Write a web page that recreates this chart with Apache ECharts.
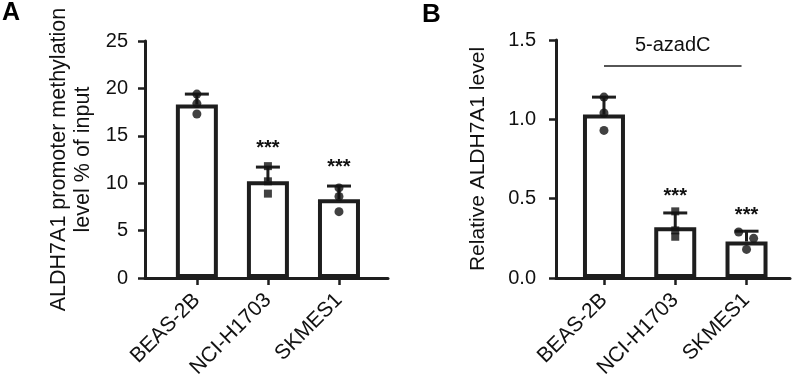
<!DOCTYPE html>
<html lang="en">
<head>
    <meta charset="UTF-8">
    <title>ALDH7A1 methylation and expression</title>
    <script src="https://cdn.jsdelivr.net/npm/echarts@6/dist/echarts.min.js"></script>
</head>
<body style="margin:0;background:#fff">
<div id="chart" style="width:800px;height:383px"></div>
<script>
    // data
    let cellLines = ['BEAS-2B', 'NCI-H1703', 'SKMES1'];
    let stars = ['', '***', '***'];

    let meanA = [18.3, 10.2, 8.3];
    let sdTopA = [19.4, 11.7, 9.7];
    let pointsA = [[19.4, 18.4, 17.3], [11.8, 10.2, 8.9], [9.5, 8.6, 7.0]];

    let meanB = [1.03, 0.32, 0.23];
    let sdTopB = [1.14, 0.41, 0.295];
    let pointsB = [[1.14, 1.04, 0.93], [0.42, 0.30, 0.26], [0.29, 0.25, 0.18]];
    let jitterB = [[0, 0, 0], [0, 0, 0], [-0.11, 0.1, 0]];

    let pointShape = ['circle', 'rect', 'circle'];

    let font = 'Liberation Sans, Arial, sans-serif';
    let ink = '#1e1e1e';

    let chart = echarts.init(document.getElementById('chart'));

    function scatterData(points, jitter) {
        let out = [];
        points.forEach(function (vals, i) {
            vals.forEach(function (v, j) {
                out.push({
                    value: [i + (jitter ? jitter[i][j] : 0), v],
                    symbol: pointShape[i],
                    symbolSize: pointShape[i] === 'rect' ? 8 : 9
                });
            });
        });
        return out;
    }

    function errorSeries(idx, mean, top, starGap) {
        return {
            type: 'custom',
            xAxisIndex: idx,
            yAxisIndex: idx,
            z: 3,
            data: mean.map(function (m, i) { return [i, m, top[i]]; }),
            renderItem: function (params, api) {
                let base = api.coord([api.value(0), api.value(1)]);
                let end = api.coord([api.value(0), api.value(2)]);
                let style = { stroke: ink, lineWidth: 3 };
                let children = [
                    { type: 'line', shape: { x1: base[0], y1: base[1], x2: end[0], y2: end[1] }, style: style },
                    { type: 'line', shape: { x1: end[0] - 12, y1: end[1], x2: end[0] + 12, y2: end[1] }, style: style }
                ];
                let s = stars[params.dataIndex];
                if (s) {
                    children.push({
                        type: 'text',
                        style: {
                            text: s, x: end[0], y: end[1] - starGap,
                            align: 'center', verticalAlign: 'middle',
                            fontSize: 20, fontWeight: 'bold', fontFamily: font, fill: '#111'
                        }
                    });
                }
                return { type: 'group', children: children };
            }
        };
    }

    function xAxisFor(idx, min, max) {
        return {
            type: 'value',
            gridIndex: idx,
            min: min,
            max: max,
            splitLine: { show: false },
            axisLine: { show: true, onZero: false, lineStyle: { color: ink, width: 3 } },
            axisTick: { show: true, customValues: [0, 1, 2], length: 7, inside: false, lineStyle: { color: ink, width: 2.5 } },
            axisLabel: {
                customValues: [0, 1, 2],
                rotate: 45,
                margin: 19,
                fontSize: 21,
                fontFamily: font,
                color: '#111',
                formatter: function (v) { return cellLines[Math.round(v)]; }
            }
        };
    }

    function yAxisFor(idx, max, interval, name, gap, nameSize, labelMargin, digits) {
        return {
            type: 'value',
            gridIndex: idx,
            min: 0,
            max: max,
            interval: interval,
            name: name,
            nameLocation: 'middle',
            nameGap: gap,
            nameTextStyle: { fontSize: nameSize, fontFamily: font, color: '#111', lineHeight: 24 },
            splitLine: { show: false },
            axisLine: { show: true, onZero: false, lineStyle: { color: ink, width: 3 } },
            axisTick: { show: true, length: 7, lineStyle: { color: ink, width: 2.5 } },
            axisLabel: {
                fontSize: 20,
                fontFamily: font,
                color: '#111',
                margin: labelMargin,
                formatter: function (v) { return v.toFixed(digits); }
            }
        };
    }

    let option = {
        animation: false,
        backgroundColor: '#fff',
        title: [
            { text: 'A', left: 2, top: 1, padding: 0, textStyle: { fontSize: 25, fontWeight: 'bold', fontFamily: font, color: '#000' } },
            { text: 'B', left: 422, top: 2, padding: 0, textStyle: { fontSize: 26, fontWeight: 'bold', fontFamily: font, color: '#000' } }
        ],
        grid: [
            { left: 145, right: 412, top: 41, bottom: 105 },
            { left: 556, right: 10, top: 40, bottom: 105 }
        ],
        xAxis: [
            xAxisFor(0, -0.73, 2.69),
            xAxisFor(1, -0.673, 2.61)
        ],
        yAxis: [
            yAxisFor(0, 25, 5, 'ALDH7A1 promoter methylation\nlevel % of input', 50, 21.5, 17, 0),
            yAxisFor(1, 1.5, 0.5, 'Relative ALDH7A1 level', 66, 21, 20, 1)
        ],
        series: [
            {
                type: 'bar',
                xAxisIndex: 0, yAxisIndex: 0,
                barWidth: 42,
                itemStyle: { color: '#fff', borderColor: ink, borderWidth: 4 },
                data: meanA.map(function (v, i) { return [i, v]; })
            },
            errorSeries(0, meanA, sdTopA, 19),
            {
                type: 'scatter',
                xAxisIndex: 0, yAxisIndex: 0,
                z: 4,
                itemStyle: { color: '#111' },
                data: scatterData(pointsA)
            },
            {
                type: 'bar',
                xAxisIndex: 1, yAxisIndex: 1,
                barWidth: 42,
                itemStyle: { color: '#fff', borderColor: ink, borderWidth: 4 },
                data: meanB.map(function (v, i) { return [i, v]; })
            },
            errorSeries(1, meanB, sdTopB, 16),
            {
                type: 'scatter',
                xAxisIndex: 1, yAxisIndex: 1,
                z: 4,
                itemStyle: { color: '#111' },
                data: scatterData(pointsB, jitterB),
                markLine: {
                    silent: true,
                    symbol: 'none',
                    lineStyle: { color: ink, width: 1.5, type: 'solid' },
                    label: {
                        show: true,
                        position: 'middle',
                        formatter: '5-azadC',
                        fontSize: 20,
                        fontFamily: font,
                        color: '#111',
                        distance: 10
                    },
                    data: [[{ coord: [0, 1.337] }, { coord: [1.93, 1.337] }]]
                }
            }
        ]
    };

    chart.setOption(option);
</script>
</body>
</html>
